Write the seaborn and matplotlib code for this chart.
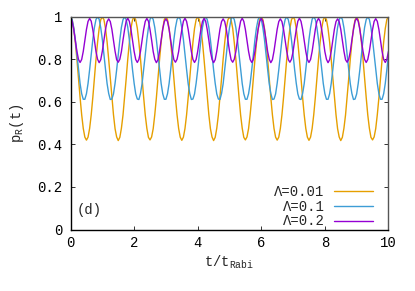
import numpy as np
import pandas as pd
import matplotlib
matplotlib.use("Agg")
import matplotlib.pyplot as plt
import seaborn as sns

# ---------------- data ----------------
t_step = 0.05
n_pts = 201
t = np.round(np.arange(n_pts) * t_step, 2)

series_labels = ["Λ=0.01", "Λ=0.1", "Λ=0.2"]
series_colors = ["#E69F00", "#3D9DD6", "#9400D3"]

p_lam001 = [
    1.000, 0.986, 0.945, 0.880, 0.800, 0.710, 0.620, 0.539, 0.475, 0.434, 0.420, 0.434, 0.475, 0.539, 0.620, 0.710, 0.800, 0.880, 0.945, 0.986,
    0.999, 0.986, 0.944, 0.881, 0.799, 0.711, 0.619, 0.540, 0.474, 0.435, 0.418, 0.433, 0.476, 0.538, 0.621, 0.709, 0.801, 0.879, 0.946, 0.985,
    1.000, 0.985, 0.946, 0.879, 0.801, 0.709, 0.621, 0.538, 0.476, 0.433, 0.421, 0.435, 0.474, 0.540, 0.619, 0.711, 0.799, 0.881, 0.944, 0.987,
    0.999, 0.987, 0.945, 0.880, 0.800, 0.710, 0.620, 0.539, 0.475, 0.434, 0.419, 0.434, 0.475, 0.539, 0.620, 0.710, 0.800, 0.880, 0.945, 0.986,
    0.999, 0.986, 0.944, 0.881, 0.799, 0.711, 0.619, 0.540, 0.474, 0.435, 0.418, 0.433, 0.476, 0.538, 0.621, 0.709, 0.801, 0.879, 0.946, 0.985,
    1.000, 0.985, 0.946, 0.879, 0.801, 0.709, 0.621, 0.538, 0.476, 0.433, 0.421, 0.435, 0.474, 0.540, 0.619, 0.711, 0.799, 0.881, 0.944, 0.987,
    1.000, 0.986, 0.945, 0.880, 0.800, 0.710, 0.620, 0.539, 0.475, 0.434, 0.420, 0.434, 0.475, 0.539, 0.620, 0.710, 0.800, 0.880, 0.945, 0.986,
    0.999, 0.987, 0.945, 0.880, 0.800, 0.710, 0.620, 0.539, 0.475, 0.434, 0.419, 0.434, 0.475, 0.539, 0.620, 0.710, 0.800, 0.880, 0.945, 0.986,
    0.999, 0.986, 0.944, 0.881, 0.799, 0.711, 0.619, 0.540, 0.474, 0.435, 0.418, 0.433, 0.476, 0.538, 0.621, 0.709, 0.801, 0.879, 0.946, 0.985,
    1.000, 0.985, 0.946, 0.879, 0.801, 0.709, 0.621, 0.538, 0.476, 0.433, 0.421, 0.435, 0.474, 0.540, 0.619, 0.711, 0.799, 0.881, 0.944, 0.987,
    1.000,
]

p_lam01 = [
    1.000, 0.987, 0.949, 0.892, 0.822, 0.751, 0.686, 0.638, 0.612, 0.612, 0.638, 0.686, 0.751, 0.822, 0.892, 0.949, 0.987,
    0.999, 0.988, 0.948, 0.893, 0.821, 0.752, 0.685, 0.639, 0.611, 0.613, 0.637, 0.687, 0.750, 0.823, 0.891, 0.950, 0.986,
    1.000, 0.986, 0.950, 0.891, 0.823, 0.750, 0.687, 0.637, 0.613, 0.611, 0.639, 0.685, 0.752, 0.821, 0.893, 0.948, 0.988,
    1.000, 0.987, 0.949, 0.892, 0.822, 0.751, 0.686, 0.638, 0.612, 0.612, 0.638, 0.686, 0.751, 0.822, 0.892, 0.949, 0.987,
    0.999, 0.988, 0.948, 0.893, 0.821, 0.752, 0.685, 0.639, 0.611, 0.613, 0.637, 0.687, 0.750, 0.823, 0.891, 0.950, 0.986,
    1.000, 0.986, 0.950, 0.891, 0.823, 0.750, 0.687, 0.637, 0.613, 0.611, 0.639, 0.685, 0.752, 0.821, 0.893, 0.948, 0.988,
    1.000, 0.987, 0.949, 0.892, 0.822, 0.751, 0.686, 0.638, 0.612, 0.612, 0.638, 0.686, 0.751, 0.822, 0.892, 0.949, 0.987,
    0.999, 0.988, 0.948, 0.893, 0.821, 0.752, 0.685, 0.639, 0.611, 0.613, 0.637, 0.687, 0.750, 0.823, 0.891, 0.950, 0.986,
    1.000, 0.986, 0.950, 0.891, 0.823, 0.750, 0.687, 0.637, 0.613, 0.611, 0.639, 0.685, 0.752, 0.821, 0.893, 0.948, 0.988,
    1.000, 0.987, 0.949, 0.892, 0.822, 0.751, 0.686, 0.638, 0.612, 0.612, 0.638, 0.686, 0.751, 0.822, 0.892, 0.949, 0.987,
    0.999, 0.988, 0.948, 0.893, 0.821, 0.752, 0.685, 0.639, 0.611, 0.613, 0.637, 0.687, 0.750, 0.823, 0.891, 0.950, 0.986,
    0.999, 0.987, 0.949, 0.892, 0.822, 0.751, 0.686, 0.638, 0.612, 0.612, 0.638, 0.686, 0.751, 0.822,
]

p_lam02 = [
    1.000, 0.978, 0.940, 0.889, 0.837, 0.799, 0.785, 0.799, 0.837, 0.889, 0.940, 0.978,
    0.992, 0.979, 0.939, 0.890, 0.836, 0.800, 0.784, 0.798, 0.838, 0.888, 0.941, 0.977,
    0.990, 0.977, 0.941, 0.888, 0.838, 0.798, 0.786, 0.800, 0.836, 0.890, 0.939, 0.979,
    0.993, 0.978, 0.940, 0.889, 0.837, 0.799, 0.785, 0.799, 0.837, 0.889, 0.940, 0.978,
    0.992, 0.979, 0.939, 0.890, 0.836, 0.800, 0.784, 0.798, 0.838, 0.888, 0.941, 0.977,
    0.990, 0.977, 0.941, 0.888, 0.838, 0.798, 0.786, 0.800, 0.836, 0.890, 0.939, 0.979,
    0.993, 0.978, 0.940, 0.889, 0.837, 0.799, 0.785, 0.799, 0.837, 0.889, 0.940, 0.978,
    0.992, 0.979, 0.939, 0.890, 0.836, 0.800, 0.784, 0.798, 0.838, 0.888, 0.941, 0.977,
    0.990, 0.977, 0.941, 0.888, 0.838, 0.798, 0.786, 0.800, 0.836, 0.890, 0.939, 0.979,
    0.993, 0.978, 0.940, 0.889, 0.837, 0.799, 0.785, 0.799, 0.837, 0.889, 0.940, 0.978,
    0.992, 0.979, 0.939, 0.890, 0.836, 0.800, 0.784, 0.798, 0.838, 0.888, 0.941, 0.977,
    0.990, 0.977, 0.941, 0.888, 0.838, 0.798, 0.786, 0.800, 0.836, 0.890, 0.939, 0.979,
    0.993, 0.978, 0.940, 0.889, 0.837, 0.799, 0.785, 0.799, 0.837, 0.889, 0.940, 0.978,
    0.992, 0.979, 0.939, 0.890, 0.836, 0.800, 0.784, 0.798, 0.838, 0.888, 0.941, 0.977,
    0.990, 0.977, 0.941, 0.888, 0.838, 0.798, 0.786, 0.800, 0.836, 0.890, 0.939, 0.979,
    0.993, 0.978, 0.940, 0.889, 0.837, 0.799, 0.785, 0.799, 0.837, 0.889, 0.940, 0.978,
    0.991, 0.978, 0.940, 0.889, 0.837, 0.799, 0.785, 0.799, 0.837,
]

x_ticks = [0, 2, 4, 6, 8, 10]
y_ticks = [0, 0.2, 0.4, 0.6, 0.8, 1]
y_tick_labels = ["0", "0.2", "0.4", "0.6", "0.8", "1"]

# ---------------- figure ----------------
sns.set_style("ticks")
plt.rcParams["font.family"] = ["Liberation Mono", "DejaVu Sans"]
plt.rcParams["mathtext.fontset"] = "custom"
plt.rcParams["mathtext.rm"] = "Liberation Mono"
plt.rcParams["mathtext.it"] = "Liberation Mono"

frames = []
for lab, vals in zip(series_labels, [p_lam001, p_lam01, p_lam02]):
    frames.append(pd.DataFrame({"t": t[: len(vals)], "p": vals, "series": lab}))
df = pd.concat(frames, ignore_index=True)

fig = plt.figure(figsize=(4.15, 2.91), dpi=100)
ax = fig.add_axes([0.170, 0.2113, 0.766, 0.7313])

sns.lineplot(data=df, x="t", y="p", hue="series", hue_order=series_labels,
             palette=series_colors, linewidth=1.0, legend=False, ax=ax)

ax.set_xlim(0, 10)
ax.set_ylim(0, 1)
ax.set_xticks(x_ticks)
ax.set_xticklabels([str(v) for v in x_ticks])
ax.set_yticks(y_ticks)
ax.set_yticklabels(y_tick_labels)
ax.tick_params(direction="in", length=3, width=0.7, top=True, right=True,
               labelsize=10, colors="#333333", labelcolor="black")
ax.tick_params(axis="x", pad=5)
ax.tick_params(axis="y", pad=6)

for side in ["left", "bottom"]:
    ax.spines[side].set_color("black")
    ax.spines[side].set_linewidth(1.0)
for side in ["top", "right"]:
    ax.spines[side].set_color("#555555")
    ax.spines[side].set_linewidth(1.0)
    ax.spines[side].set_visible(True)

ax.set_xlabel(r"t/t$_{\mathrm{Rabi}}$", fontsize=10)
ax.set_ylabel(r"p$_{\mathrm{R}}$(t)", fontsize=10)
ax.xaxis.set_label_coords(0.5, -0.115)
ax.yaxis.set_label_coords(-0.14, 0.5)

ax.text(0.2, 0.092, "(d)", fontsize=10, ha="left", va="center")

handles = ax.get_lines()[:3]
ax.legend(handles, series_labels, loc="lower right", bbox_to_anchor=(0.95, 0.005),
          frameon=False, markerfirst=False, handlelength=2.8, handletextpad=0.65,
          labelspacing=0.05, borderpad=0, borderaxespad=0, fontsize=10)

fig.savefig("out.png", dpi=100)
